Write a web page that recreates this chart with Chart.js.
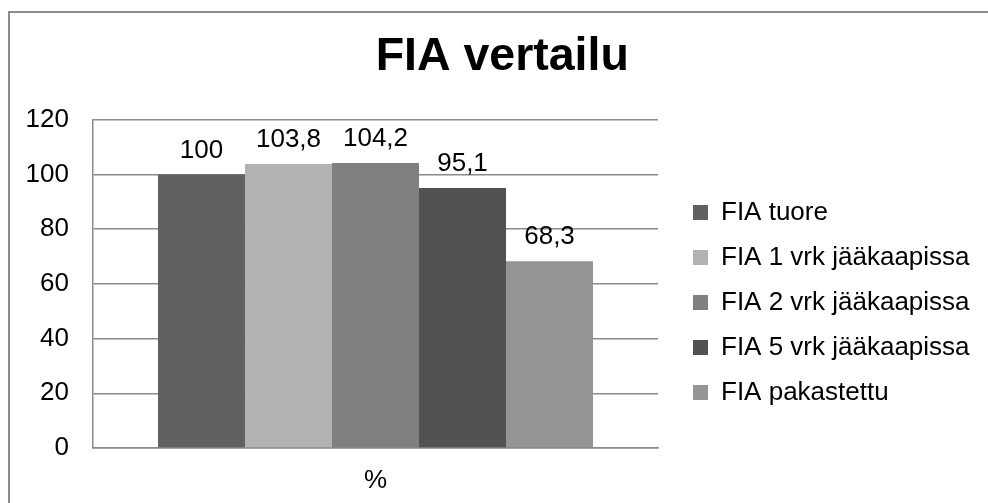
<!DOCTYPE html>
<html>
<head>
<meta charset="utf-8">
<script src="https://cdn.jsdelivr.net/npm/chart.js@4/dist/chart.umd.min.js"></script>
<style>
  html, body { margin: 0; padding: 0; background: #ffffff; }
  #wrap { width: 988px; height: 503px; position: relative; }
</style>
</head>
<body>
<div id="wrap"><canvas id="c" width="988" height="503"></canvas></div>
<script>
// Category and series
const categories = ['%'];
const seriesNames = ['FIA tuore', 'FIA 1 vrk jääkaapissa', 'FIA 2 vrk jääkaapissa', 'FIA 5 vrk jääkaapissa', 'FIA pakastettu'];
const seriesValues = [100, 103.8, 104.2, 95.1, 68.3];
const seriesColors = ['#616161', '#b2b2b2', '#808080', '#525252', '#959595'];
const yTicks = [0, 20, 40, 60, 80, 100, 120];

const FONT = '"Liberation Sans", Arial, sans-serif';
const GRID = '#8a8a8a';

// Outer chart frame (only top and left edges fall inside the canvas)
const framePlugin = {
  id: 'frame',
  beforeDraw(chart) {
    const ctx = chart.ctx;
    ctx.save();
    ctx.fillStyle = '#ffffff';
    ctx.fillRect(0, 0, chart.width, chart.height);
    ctx.strokeStyle = '#8c8c8c';
    ctx.lineWidth = 2;
    ctx.beginPath();
    ctx.moveTo(9, chart.height + 2);
    ctx.lineTo(9, 12);
    ctx.lineTo(chart.width + 2, 12);
    ctx.stroke();
    ctx.restore();
  }
};

// Right-hand legend: give it a fixed column width and nudge its items
const LEGEND_WIDTH = 326.5;
const LEGEND_SHIFT = { x: 16, y: 55 };
const wideLegend = {
  id: 'wideLegend',
  afterInit(chart) {
    const lg = chart.legend;
    if (!lg) return;
    const fit = lg.fit.bind(lg);
    lg.fit = function () {
      this.maxWidth = 420;
      fit();
      this.width = Math.max(this.width, LEGEND_WIDTH);
    };
    const draw = lg.draw.bind(lg);
    lg.draw = function () {
      const ctx = this.ctx;
      ctx.save();
      ctx.translate(LEGEND_SHIFT.x, LEGEND_SHIFT.y);
      draw();
      ctx.restore();
    };
  }
};

// Value labels above each bar, decimal comma
const valueLabels = {
  id: 'valueLabels',
  afterDatasetsDraw(chart) {
    const ctx = chart.ctx;
    ctx.save();
    ctx.font = '26px ' + FONT;
    ctx.fillStyle = '#000000';
    ctx.textAlign = 'center';
    ctx.textBaseline = 'alphabetic';
    chart.data.datasets.forEach((ds, i) => {
      const meta = chart.getDatasetMeta(i);
      meta.data.forEach((bar, j) => {
        const txt = String(ds.data[j]).replace('.', ',');
        ctx.fillText(txt, bar.x, bar.y - 17);
      });
    });
    ctx.restore();
  }
};

const datasets = seriesNames.map((name, i) => ({
  label: name,
  data: [seriesValues[i]],
  backgroundColor: seriesColors[i],
  borderWidth: 0,
  categoryPercentage: 0.77,
  barPercentage: 1.0
}));

new Chart(document.getElementById('c'), {
  type: 'bar',
  data: { labels: categories, datasets },
  options: {
    responsive: false,
    animation: false,
    layout: { padding: { left: 20, right: 3.5, top: 0, bottom: 8 } },
    plugins: {
      title: {
        display: true,
        text: 'FIA vertailu',
        color: '#000000',
        font: { family: FONT, size: 46.5, weight: 'bold', lineHeight: 1.2 },
        padding: { top: 29, bottom: 35 }
      },
      legend: {
        position: 'right',
        align: 'center',
        labels: {
          boxWidth: 15,
          boxHeight: 15,
          padding: 19,
          color: '#000000',
          font: { family: FONT, size: 26 }
        }
      },
      tooltip: { enabled: false }
    },
    scales: {
      x: {
        afterFit(scale) { scale.height = 47; },
        grid: { display: false, drawTicks: false },
        border: { display: true, color: GRID, width: 1.5 },
        ticks: { color: '#000000', padding: 17, font: { family: FONT, size: 26 } }
      },
      y: {
        min: 0,
        max: 120,
        afterBuildTicks(scale) { scale.ticks = yTicks.map(v => ({ value: v })); },
        afterFit(scale) { scale.width = 73; },
        grid: { color: GRID, lineWidth: 1.5, drawTicks: false },
        border: { display: true, color: GRID, width: 1.5 },
        ticks: { color: '#000000', padding: 24, font: { family: FONT, size: 26 } }
      }
    }
  },
  plugins: [framePlugin, wideLegend, valueLabels]
});
</script>
</body>
</html>
